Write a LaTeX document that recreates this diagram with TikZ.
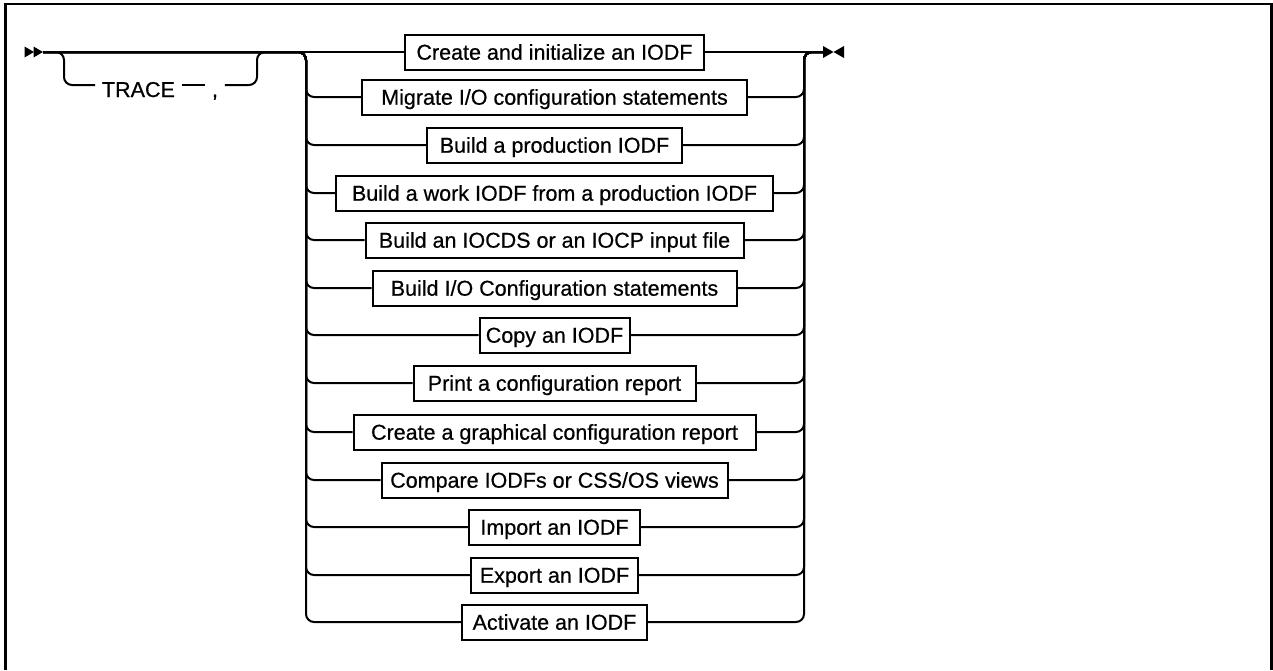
\documentclass[tikz,border=0pt]{standalone}
\usepackage{fontspec}
\setmainfont{Liberation Sans}[FakeBold=0.6]
\newfontfamily\medfont{Liberation Sans}[FakeBold=0.6]
\begin{document}
\begin{tikzpicture}[x=1pt,y=-1pt,line width=2pt,
  opt/.style={draw,line width=2pt,minimum height=35pt,inner sep=0pt,
    font=\medfont\fontsize{21.5}{25}\selectfont,text height=15.4pt,text depth=0pt},
  word/.style={inner ysep=0pt,inner xsep=6pt,font=\medfont\fontsize{21.5}{25}\selectfont,
    text height=24pt,text depth=0pt,anchor=base west},
  rc/.style={rounded corners=8pt},
  tipfill/.style={fill=black,draw=none},
  framel/.style={line width=2.5pt}]
\useasboundingbox (0,0) rectangle (1273,670);
% frame
\draw[framel] (5.5,670) -- (5.5,4) -- (1271.5,4) -- (1271.5,670);

% key coordinates
\coordinate (s) at (43,52);
\coordinate (la) at (64,52);
\coordinate (lb) at (257,52);
\coordinate (jl) at (306,52);
\coordinate (jr) at (804,52);
\coordinate (e) at (823,52);

% start and end marks
\fill[tipfill,shift={(s)}] (-18.5,-5.5) -- (-9,0) -- (-18.5,5.5) -- cycle;
\fill[tipfill,shift={(s)}] (-9.5,-5.5) -- (0,0) -- (-9.5,5.5) -- cycle;
\fill[tipfill,shift={(e)}] (0,-6) -- (10.5,0) -- (0,6) -- cycle;
\fill[tipfill,shift={(e)}] (21,-6) -- (10.5,0) -- (21,6) -- cycle;

% options
\node[opt,minimum width=299pt] (o1) at (554.5,52) {Create and initialize an IODF};
\node[opt,minimum width=385pt] (o2) at (554.5,97) {Migrate I/O configuration statements};
\node[opt,minimum width=255pt] (o3) at (554.5,145) {Build a production IODF};
\node[opt,minimum width=437pt] (o4) at (554.5,193) {Build a work IODF from a production IODF};
\node[opt,minimum width=378pt] (o5) at (554.5,240) {Build an IOCDS or an IOCP input file};
\node[opt,minimum width=364pt] (o6) at (554.5,288) {Build I/O Configuration statements};
\node[opt,minimum width=150pt] (o7) at (554.5,335) {Copy an IODF};
\node[opt,minimum width=282pt] (o8) at (554.5,383) {Print a configuration report};
\node[opt,minimum width=402pt] (o9) at (554.5,432) {Create a graphical configuration report};
\node[opt,minimum width=346pt] (o10) at (554.5,480) {Compare IODFs or CSS/OS views};
\node[opt,minimum width=171pt] (o11) at (554.5,527) {Import an IODF};
\node[opt,minimum width=167pt] (o12) at (554.5,575) {Export an IODF};
\node[opt,minimum width=185pt] (o13) at (554.5,622) {Activate an IODF};

% optional TRACE ,
\node[word] (trace) at (95,97) {TRACE};
\node[word] (comma) at (205,97) {,};

% main line
\draw (s) -- (o1.west);
\draw (o1.east) -- (e);

% TRACE loop
\draw[rc] (s) -- (la) -- (la |- trace.west) -- (trace.west);
\draw (trace.east) -- (comma.west);
\draw[rc] (comma.east) -- (comma.east -| lb) -- (lb) -- (jl);

% choice rails
\foreach \i in {2,...,13}{
  \draw[rc] (s) -- (jl) -- (jl |- o\i.west) -- (o\i.west);
  \draw[rc] (o\i.east) -- (o\i.east -| jr) -- (jr) -- (e);
}
\end{tikzpicture}
\end{document}
